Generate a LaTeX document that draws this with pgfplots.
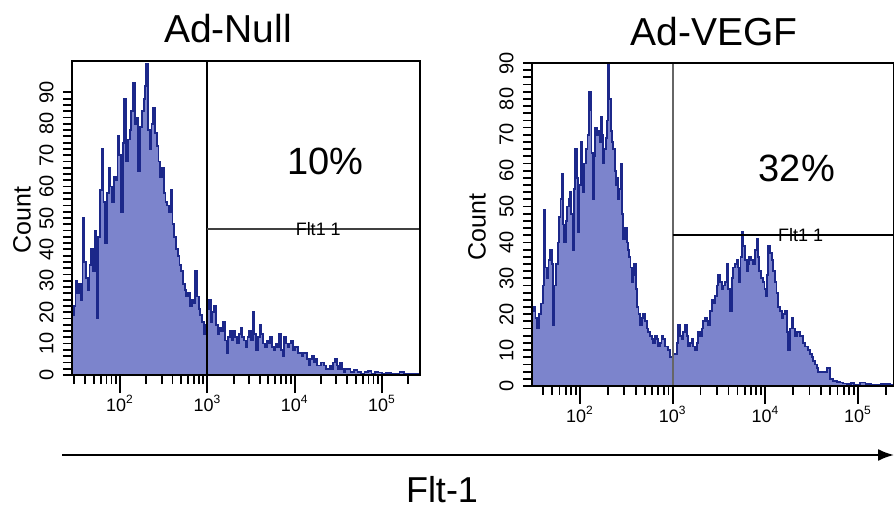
\documentclass[border=0pt]{standalone}
\usepackage{pgfplots}
\pgfplotsset{compat=1.18}
\usepackage{pgfplotstable}
\usetikzlibrary{arrows.meta}
\usepackage{fontspec}
\setmainfont{Liberation Sans}
\definecolor{histfill}{RGB}{124,132,204}
\definecolor{histline}{RGB}{28,40,138}

\pgfplotstableread{
x c
1.45 19
1.47 22
1.49 30
1.51 26
1.53 29
1.55 24
1.57 50
1.59 36
1.61 31
1.63 27
1.65 35
1.67 40
1.69 33
1.71 46
1.73 18
1.75 44
1.77 59
1.79 72
1.81 55
1.83 42
1.85 58
1.87 66
1.89 60
1.91 55
1.93 63
1.95 62
1.97 76
1.99 70
2.01 52
2.03 74
2.05 88
2.07 68
2.09 75
2.11 78
2.13 84
2.15 93
2.17 80
2.19 82
2.21 65
2.23 79
2.25 84
2.27 88
2.29 92
2.30 99
2.32 78
2.34 72
2.36 80
2.38 85
2.40 77
2.42 73
2.44 68
2.46 63
2.48 66
2.50 58
2.52 55
2.54 54
2.56 52
2.58 59
2.60 48
2.62 44
2.64 40
2.66 38
2.68 35
2.70 33
2.72 29
2.74 27
2.76 25
2.78 26
2.80 22
2.82 24
2.84 23
2.86 33
2.88 25
2.90 21
2.92 19
2.94 17
2.96 13
2.98 16
3.00 21
3.02 24
3.04 17
3.06 20
3.08 22
3.10 16
3.12 13
3.14 15
3.16 14
3.18 17
3.20 11
3.22 7
3.24 12
3.26 14
3.28 11
3.30 14
3.32 12
3.34 10
3.36 13
3.38 15
3.40 12
3.42 11
3.44 9
3.46 12
3.48 14
3.50 11
3.52 20
3.54 13
3.56 8
3.58 12
3.60 16
3.62 13
3.64 10
3.66 9
3.68 11
3.70 10
3.72 12
3.74 9
3.76 8
3.78 10
3.80 9
3.82 13
3.84 8
3.86 6
3.88 12
3.90 10
3.92 9
3.94 10
3.96 11
3.98 8
4.00 9
4.02 9
4.04 7
4.06 7
4.08 6
4.10 7
4.12 7
4.14 5
4.16 3
4.18 5
4.20 6
4.22 4
4.24 5
4.26 3
4.28 3
4.30 4
4.32 4
4.34 3
4.36 2
4.38 2
4.40 3
4.42 2
4.44 4
4.46 5
4.48 3
4.50 2
4.52 4
4.54 2
4.56 1
4.58 2
4.60 2
4.64 1
4.68 1.5
4.72 1
4.76 0.5
4.80 1
4.84 1.2
4.88 0.5
4.92 1
4.96 0.8
5.00 0.5
5.05 0.6
5.10 0.3
5.15 0.5
5.20 1
5.25 0.4
5.30 0.3
5.35 0.5
5.40 0.2
5.435 0.2
}\nulldata

\pgfplotstableread{
x c
1.482 21
1.50 22
1.52 19
1.54 16
1.56 20
1.58 23
1.60 28
1.612 49
1.625 33
1.641 30
1.66 35
1.676 38
1.694 34
1.712 17
1.725 28
1.741 34
1.76 40
1.777 47
1.79 52
1.803 59
1.815 45
1.827 40
1.845 46
1.863 50
1.878 52
1.892 54
1.905 48
1.921 38
1.935 55
1.946 66
1.965 58
1.982 43
1.995 56
2.007 68
2.02 60
2.029 54
2.045 62
2.061 66
2.08 70
2.101 82
2.115 77
2.125 65
2.137 52
2.15 64
2.162 72
2.18 70
2.198 71
2.212 68
2.227 75
2.24 70
2.252 62
2.265 66
2.281 69
2.295 74
2.306 90
2.318 80
2.331 71
2.345 68
2.36 66
2.375 60
2.388 56
2.40 58
2.413 52
2.425 55
2.439 62
2.452 48
2.467 41
2.485 44
2.504 40
2.518 38
2.532 36
2.545 33
2.557 29
2.572 31
2.586 34
2.60 27
2.611 22
2.63 20
2.647 17
2.665 19
2.683 20
2.70 18
2.719 16
2.737 15
2.755 14
2.773 13
2.791 12
2.81 14
2.827 13
2.845 11
2.863 12
2.88 14
2.899 13
2.92 11
2.935 11
2.953 10
2.97 8
2.989 8
3.008 9
3.025 9
3.043 12
3.061 17
3.079 14
3.097 13
3.115 15
3.133 17
3.151 14
3.169 11
3.187 12
3.205 13
3.223 11
3.241 10
3.259 12
3.276 15
3.295 14
3.313 16
3.33 18
3.348 19
3.366 18
3.384 17
3.403 21
3.421 24
3.438 23
3.456 25
3.474 28
3.492 31
3.51 29
3.529 27
3.547 28
3.564 29
3.582 34
3.60 27
3.618 21
3.636 30
3.654 33
3.672 34
3.690 35
3.705 33
3.718 29
3.731 36
3.744 43
3.762 39
3.78 35
3.798 32
3.812 34
3.826 36
3.848 35
3.870 34
3.888 38
3.906 41
3.92 36
3.934 32
3.952 30
3.971 29
3.99 27
4.006 25
4.018 31
4.031 39
4.05 37
4.068 35
4.086 32
4.104 29
4.12 26
4.139 22
4.158 21
4.176 19
4.194 20
4.211 21
4.23 15
4.247 10
4.265 16
4.284 19
4.30 16
4.319 14
4.337 15
4.355 15
4.373 14
4.392 14
4.41 12
4.427 11
4.445 11
4.463 10
4.48 9
4.499 8
4.517 7
4.535 6
4.553 5
4.571 4
4.60 4
4.625 4
4.661 5
4.697 2
4.733 1.4
4.77 1.2
4.805 1
4.84 0.7
4.877 0.5
4.92 0.8
4.96 0.4
5.021 1
5.08 0.5
5.14 0.3
5.201 0.3
5.25 0.6
5.309 0.5
5.35 0.3
5.388 0.3
}\vegfdata

\pgfplotsset{flowstyle/.style={
  scale only axis,
  axis line style={line width=0.9pt, black},
  tick align=outside,
  xtick pos=bottom, ytick pos=left,
  tick style={black, line width=0.9pt},
  major tick length=4.5pt, minor tick length=4.5pt,
  xtick={2,3,4,5}, xticklabels={},
  minor xtick={1.477,1.602,1.699,1.778,1.845,1.903,1.954,2.301,2.477,2.602,2.699,2.778,2.845,2.903,2.954,3.301,3.477,3.602,3.699,3.778,3.845,3.903,3.954,4.301,4.477,4.602,4.699,4.778,4.845,4.903,4.954,5.301},
  extra x ticks={2,3,4,5},
  extra x tick labels={10\textsuperscript{2},10\textsuperscript{3},10\textsuperscript{4},10\textsuperscript{5}},
  extra x tick style={major tick length=9pt, tick style={black, line width=1pt}},
  ytick={0,10,...,90}, minor y tick num=4,
  yticklabel style={rotate=90, anchor=south, font=\fontsize{10}{11}\selectfont, inner sep=1pt, yshift=3.5pt},
  xticklabel style={font=\fontsize{9}{10}\selectfont, inner sep=1pt},
  /pgf/number format/assume math mode=true,
  ymin=0, axis on top,
  clip=true,
}}

\begin{document}
\begin{tikzpicture}
\path[use as bounding box] (0pt,0pt) rectangle (447pt,257pt);

% Left panel: Ad-Null
\begin{axis}[flowstyle, at={(36pt,69.5pt)}, anchor=south west,
  width=174pt, height=157pt, xmin=1.45, xmax=5.435, ymax=100]
\addplot[const plot, draw=histline, fill=histfill, line width=0.9pt] table[x=x,y=c] {\nulldata} \closedcycle;
\addplot[black, line width=0.9pt] coordinates {(3,0) (3,100)};
\addplot[black!75, line width=0.9pt] coordinates {(3,46.5) (5.435,46.5)};
\node[font=\fontsize{9}{10}\selectfont, text=black] at (axis cs:4.27,46.5) {Flt1 1};
\node[font=\fontsize{19}{22}\selectfont] at (axis cs:4.35,68) {10\%};
\end{axis}

% Right panel: Ad-VEGF
\begin{axis}[flowstyle, at={(266pt,64pt)}, anchor=south west,
  width=181pt, height=161.5pt, xmin=1.482, xmax=5.388, ymax=90]
\addplot[const plot, draw=histline, fill=histfill, line width=0.9pt] table[x=x,y=c] {\vegfdata} \closedcycle;
\addplot[black!60, line width=0.9pt] coordinates {(3,0) (3,90)};
\addplot[black, line width=0.9pt] coordinates {(3,42) (5.388,42)};
\node[font=\fontsize{9}{10}\selectfont, text=black] at (axis cs:4.38,42) {Flt1 1};
\node[font=\fontsize{19}{22}\selectfont] at (axis cs:4.34,60.5) {32\%};
\end{axis}

% Titles and labels
\node[anchor=base, font=\fontsize{19.5}{22}\selectfont] at (114pt,235.5pt) {Ad-Null};
\node[anchor=base, font=\fontsize{19.5}{22}\selectfont] at (357pt,234pt) {Ad-VEGF};
\node[rotate=90, font=\fontsize{12.5}{14}\selectfont] at (11pt,147pt) {Count};
\node[rotate=90, font=\fontsize{12.5}{14}\selectfont] at (238.5pt,143.5pt) {Count};
\draw[line width=1pt, -{Latex[length=8pt,width=6pt]}] (31pt,29.5pt) -- (447pt,29.5pt);
\node[anchor=base, font=\fontsize{18}{20}\selectfont] at (221pt,5.5pt) {Flt-1};
\end{tikzpicture}
\end{document}
